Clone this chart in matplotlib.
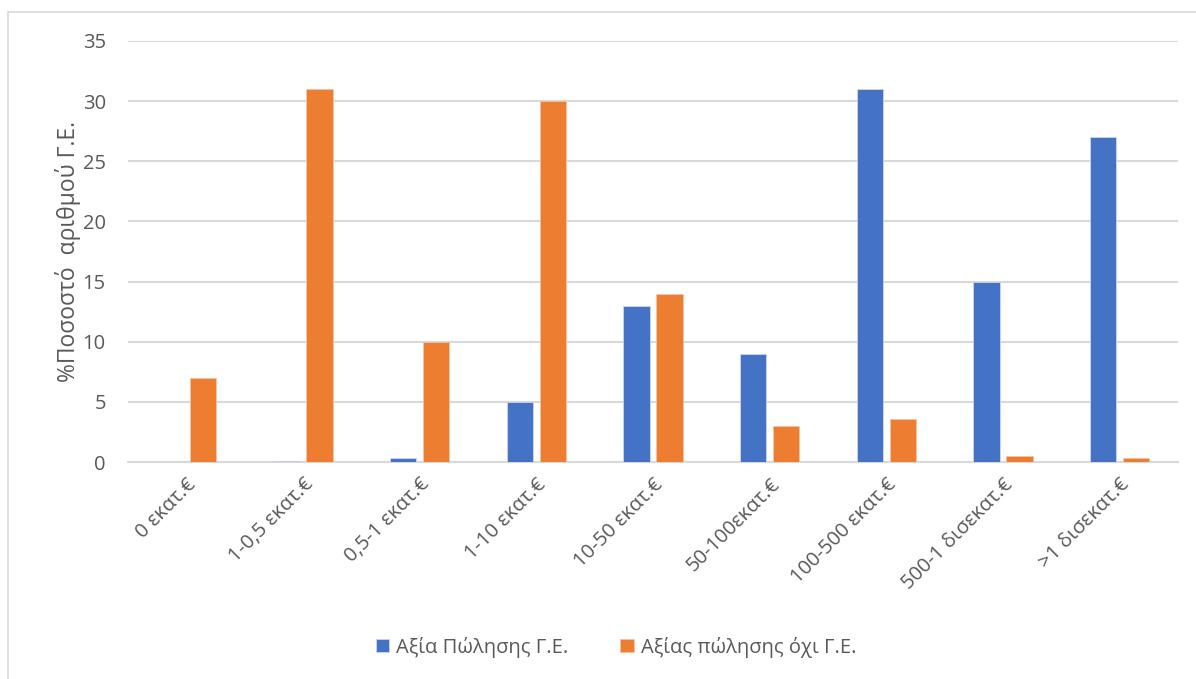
import numpy as np
import matplotlib
matplotlib.use("Agg")
import matplotlib.pyplot as plt
from matplotlib.patches import Rectangle

categories = ["0 εκατ.€", "1-0,5 εκατ.€", "0,5-1 εκατ.€", "1-10 εκατ.€", "10-50 εκατ.€",
              "50-100εκατ.€", "100-500 εκατ.€", "500-1 δισεκατ.€", ">1 δισεκατ.€"]
ge_values = [0, 0.05, 0.3, 5, 13, 9, 31, 15, 27]
non_ge_values = [7, 31, 10, 30, 14, 3, 3.6, 0.5, 0.3]
series_names = ["Αξία Πώλησης Γ.Ε.", "Αξίας πώλησης όχι Γ.Ε."]
y_ticks = [0, 5, 10, 15, 20, 25, 30, 35]

plt.rcParams['font.family'] = ['Open Sans', 'DejaVu Sans']
text_color = "#595959"
blue = "#4472c4"
orange = "#ed7d31"

fig = plt.figure(figsize=(11.96, 6.79), dpi=100)
# outer chart frame
fig.patches.append(Rectangle((8 / 1196, -0.01), 1.02, 1 - 12 / 679 + 0.01,
                             transform=fig.transFigure, fill=False,
                             edgecolor="#d9d9d9", linewidth=1.2))

ax = fig.add_axes([128 / 1196, 1 - 462 / 679, 1050 / 1196, 421 / 679])
x = np.arange(len(categories))
w = 0.225
off = 0.141
ax.bar(x - off, ge_values, w, color=blue, edgecolor="#cdd6ee", linewidth=0.6,
       label=series_names[0], zorder=3)
ax.bar(x + off, non_ge_values, w, color=orange, edgecolor="#f6c3a3", linewidth=0.6,
       label=series_names[1], zorder=3)

ax.set_xlim(-0.5, len(categories) - 0.5)
ax.set_ylim(0, 35)
ax.set_yticks(y_ticks)
ax.yaxis.grid(True, color="#d9d9d9", linewidth=1.5, zorder=0)
for s in ["top", "right", "left"]:
    ax.spines[s].set_visible(False)
ax.spines["bottom"].set_color("#d9d9d9")
ax.spines["bottom"].set_linewidth(1.5)
ax.tick_params(axis="both", length=0, labelsize=14.5, labelcolor=text_color)
ax.tick_params(axis="y", pad=16)
ax.set_xticks(x)
ax.set_xticklabels(categories, rotation=45, ha="right", rotation_mode="anchor")
ax.tick_params(axis="x", pad=9)
ax.set_ylabel("%Ποσοστό  αριθμού Γ.Ε.", fontsize=16.5, color=text_color, labelpad=1)

fig.legend(loc="center", bbox_to_anchor=(0.515, 1 - 647 / 679), ncol=2, frameon=False,
           fontsize=14.5, labelcolor=text_color, handlelength=0.65, handleheight=0.65,
           handletextpad=0.35, columnspacing=2.6)

fig.savefig("out.png", dpi=100)
